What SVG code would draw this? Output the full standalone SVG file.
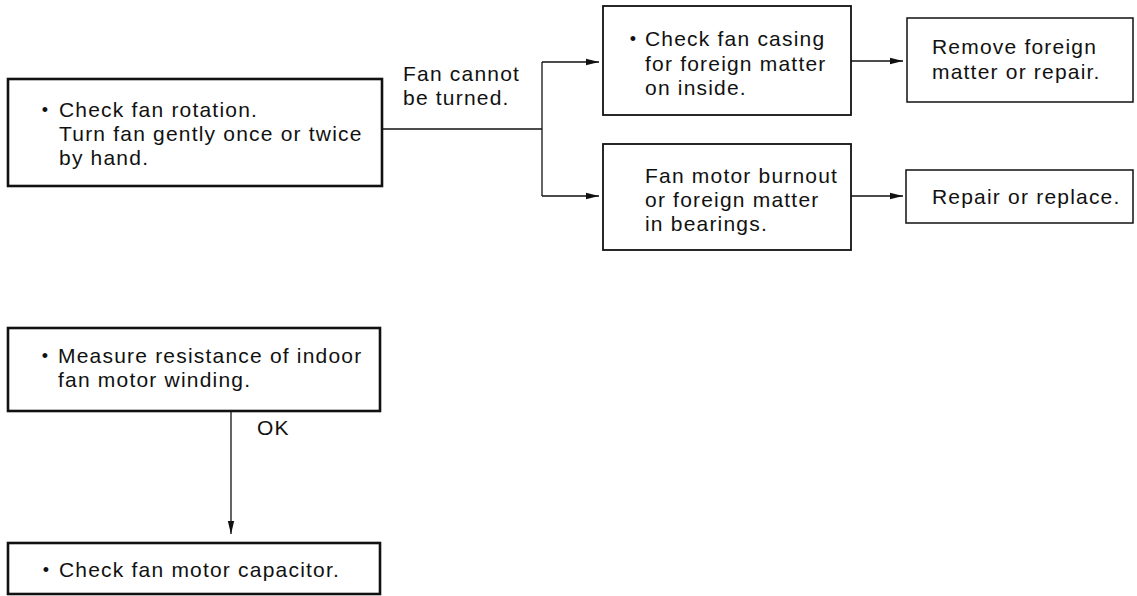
<svg xmlns="http://www.w3.org/2000/svg" width="1137" height="596" viewBox="0 0 1137 596">
<defs>
<style>
text { font-family: "Liberation Sans", Arial, sans-serif; font-size: 21px; letter-spacing: 1.2px; fill: #111; }
text.b { font-size: 18px; letter-spacing: 0; text-anchor: middle; }
.thick { fill: #fff; stroke: #111; stroke-width: 2.6; }
.mid { fill: #fff; stroke: #111; stroke-width: 1.8; }
.thin { fill: #fff; stroke: #111; stroke-width: 1.5; }
.conn { fill: none; stroke: #111; stroke-width: 1.3; }
</style>
<marker id="arr" markerUnits="userSpaceOnUse" markerWidth="14" markerHeight="8" refX="13" refY="4" orient="auto">
<path d="M0,0.8 L13,4 L0,7.2 z" fill="#111"/>
</marker>
</defs>
<rect width="1137" height="596" fill="#fff"/>

<g id="connectors">
<polyline class="conn" points="382,129 542,129"/>
<polyline class="conn" points="542,62 542,196"/>
<polyline class="conn" points="542,62 599,62" marker-end="url(#arr)"/>
<polyline class="conn" points="542,196 599,196" marker-end="url(#arr)"/>
<polyline class="conn" points="851,61 903,61" marker-end="url(#arr)"/>
<polyline class="conn" points="851,196 903,196" marker-end="url(#arr)"/>
<polyline class="conn" points="231,411 231,534" marker-end="url(#arr)"/>
<text x="403" y="81">Fan cannot</text>
<text x="403" y="105">be turned.</text>
<text x="257" y="435">OK</text>
</g>

<g id="node-check-rotation">
<rect class="thick" x="8" y="79" width="374" height="107"/>
<text class="b" x="45" y="116">•</text>
<text x="59" y="117">Check fan rotation.</text>
<text x="59" y="141">Turn fan gently once or twice</text>
<text x="59" y="165">by hand.</text>
</g>

<g id="node-check-casing">
<rect class="mid" x="603" y="6" width="248" height="109"/>
<text class="b" x="633" y="45">•</text>
<text x="645" y="46">Check fan casing</text>
<text x="645" y="71">for foreign matter</text>
<text x="645" y="95">on inside.</text>
</g>

<g id="node-burnout">
<rect class="mid" x="603" y="144" width="248" height="106"/>
<text x="645" y="183">Fan motor burnout</text>
<text x="645" y="207">or foreign matter</text>
<text x="645" y="231">in bearings.</text>
</g>

<g id="node-remove">
<rect class="thin" x="907" y="18" width="226" height="84"/>
<text x="932" y="54">Remove foreign</text>
<text x="932" y="79">matter or repair.</text>
</g>

<g id="node-repair">
<rect class="thin" x="906" y="170" width="227" height="53"/>
<text x="932" y="204">Repair or replace.</text>
</g>

<g id="node-measure">
<rect class="thick" x="8" y="328" width="372" height="83"/>
<text class="b" x="45" y="362">•</text>
<text x="58" y="363">Measure resistance of indoor</text>
<text x="58" y="387">fan motor winding.</text>
</g>

<g id="node-capacitor">
<rect class="thick" x="8" y="543" width="372" height="51"/>
<text class="b" x="46" y="576">•</text>
<text x="59" y="577">Check fan motor capacitor.</text>
</g>
</svg>
